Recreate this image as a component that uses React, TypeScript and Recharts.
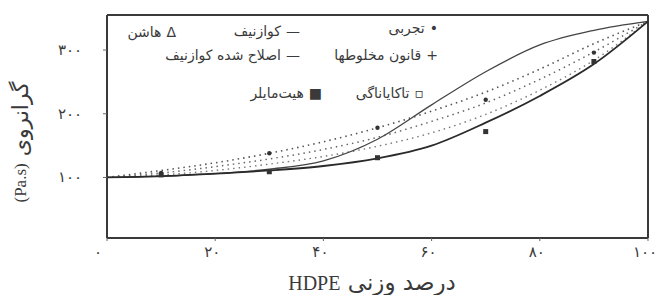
import { ComposedChart, Line, Scatter, XAxis, YAxis, ReferenceLine } from 'recharts'

// weight % HDPE
const xs = [0, 10, 20, 30, 40, 50, 60, 70, 80, 90, 100]
// viscosity (Pa.s)
const kuznetsov = [100, 102, 106, 113, 126, 160, 214, 266, 308, 331, 345]
const modifiedKuznetsov = [100, 102, 106, 111, 118, 130, 150, 186, 228, 278, 345]
const ruleOfMixtures = [100, 111, 123, 138, 156, 178, 204, 234, 270, 310, 345]
const hashin = [100, 107, 117, 129, 144, 163, 188, 217, 254, 297, 345]
const takayanagi = [100, 104, 111, 121, 133, 149, 170, 199, 237, 284, 345]

const pointX = [10, 30, 50, 70, 90]
const experimental = [107, 138, 178, 222, 296]
const heitmiller = [104, 109, 131, 172, 282]

const xTicks = [0, 20, 40, 60, 80, 100]
const yTicks = [100, 200, 300]

const FONT = '"DejaVu Sans", sans-serif'
const SERIF = '"Liberation Serif", serif'
const INK = '#3a3a3a'

const faDigits = (n: number) => String(n).replace(/\d/g, (d) => '۰۱۲۳۴۵۶۷۸۹'[Number(d)])

const data = xs.map((x, i) => ({
  x,
  kuz: kuznetsov[i],
  modKuz: modifiedKuznetsov[i],
  rom: ruleOfMixtures[i],
  hashin: hashin[i],
  taka: takayanagi[i],
}))
const expPoints = pointX.map((x, i) => ({ x, y: experimental[i] }))
const heitPoints = pointX.map((x, i) => ({ x, y: heitmiller[i] }))

const legendItems = [
  { label: 'تجربی', symbol: '•', right: 230, top: 20 },
  { label: 'کوازنیف', symbol: '—', right: 368, top: 23 },
  { label: 'هاشن', symbol: 'Δ', right: 492, top: 24 },
  { label: 'قانون مخلوطها', symbol: '+', right: 230, top: 47 },
  { label: 'اصلاح شده کوازنیف', symbol: '—', right: 368, top: 47 },
  { label: 'تاکایاناگی', symbol: '▫', right: 244, top: 85 },
  { label: 'هیت‌مایلر', symbol: '■', right: 346, top: 85 },
]

function XTick({ x, y, payload }: any) {
  const v = payload.value
  return (
    <text x={x + (v === 0 ? -9 : -3)} y={y} dy={12} textAnchor="middle" fontFamily={FONT} fontSize={15}
      fill={INK} letterSpacing={8}>
      {faDigits(v)}
    </text>
  )
}

function YTick({ x, y, payload }: any) {
  return (
    <text x={x - 42} y={y} dy={5} textAnchor="start" fontFamily={FONT} fontSize={15} fill={INK} letterSpacing={11}>
      {faDigits(payload.value)}
    </text>
  )
}

function Dot({ cx, cy }: any) {
  return <circle cx={cx} cy={cy} r={2.2} fill="#333" />
}

function Square({ cx, cy }: any) {
  return <rect x={cx - 2.5} y={cy - 2.5} width={5} height={5} fill="#333" />
}

export default function App() {
  return (
    <div style={{ position: 'absolute', left: 0, top: 0, width: 668, height: 295, background: '#fff' }}>
      <ComposedChart width={668} height={295} data={data} margin={{ top: 15, right: 20, bottom: 0, left: 0 }}>
        <XAxis
          dataKey="x"
          type="number"
          domain={[0, 100]}
          ticks={xTicks}
          tick={<XTick />}
          tickSize={3}
          tickMargin={4}
          height={57}
          axisLine={{ stroke: '#3a3a3a', strokeWidth: 2 }}
          tickLine={{ stroke: '#666' }}
          label={{
            content: () => (
              <text x={372} y={290} textAnchor="middle" fill={INK}>
                <tspan fontFamily={SERIF} fontSize={20}>HDPE</tspan>
                <tspan fontFamily={FONT} fontSize={23}> درصد وزنی</tspan>
              </text>
            ),
          }}
        />
        <YAxis
          type="number"
          domain={[5, 355]}
          ticks={yTicks}
          tick={<YTick />}
          tickSize={4}
          tickMargin={3}
          width={107}
          axisLine={{ stroke: '#3a3a3a', strokeWidth: 2 }}
          tickLine={{ stroke: '#666' }}
          label={{
            content: () => (
              <text x={22} y={142} transform="rotate(-90 22 142)" textAnchor="middle" dominantBaseline="middle" fill={INK}>
                <tspan fontFamily={SERIF} fontSize={17}>(Pa.s)</tspan>
                <tspan fontFamily={FONT} fontSize={22}> گرانروی</tspan>
              </text>
            ),
          }}
        />
        <ReferenceLine x={100} stroke="#3a3a3a" strokeWidth={2} />
        <ReferenceLine y={355} stroke="#3a3a3a" strokeWidth={2} />

        <Line dataKey="rom" type="monotone" stroke="#555" strokeWidth={1.6} strokeDasharray="1.5 4" dot={false} isAnimationActive={false} />
        <Line dataKey="hashin" type="monotone" stroke="#666" strokeWidth={1.5} strokeDasharray="1.5 4" dot={false} isAnimationActive={false} />
        <Line dataKey="taka" type="monotone" stroke="#777" strokeWidth={1.4} strokeDasharray="1.5 4" dot={false} isAnimationActive={false} />
        <Line dataKey="kuz" type="monotone" stroke="#444" strokeWidth={1.3} dot={false} isAnimationActive={false} />
        <Line dataKey="modKuz" type="monotone" stroke="#2a2a2a" strokeWidth={1.8} dot={false} isAnimationActive={false} />
        <Scatter data={expPoints} dataKey="y" shape={<Dot />} isAnimationActive={false} />
        <Scatter data={heitPoints} dataKey="y" shape={<Square />} isAnimationActive={false} />
      </ComposedChart>
      {legendItems.map((it) => (
        <div
          key={it.label}
          style={{
            position: 'absolute',
            right: it.right,
            top: it.top,
            direction: 'rtl',
            whiteSpace: 'nowrap',
            fontFamily: FONT,
            fontSize: 14,
            color: INK,
          }}
        >
          <span style={{ marginLeft: 5 }}>{it.symbol}</span>
          {it.label}
        </div>
      ))}
    </div>
  )
}
